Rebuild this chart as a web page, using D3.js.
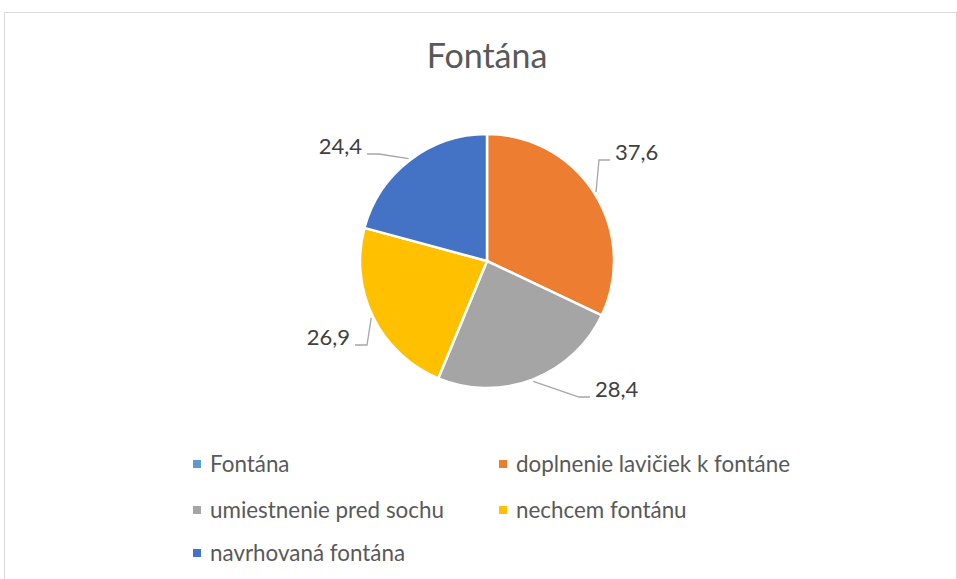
<!DOCTYPE html>
<html>
<head>
<meta charset="utf-8">
<script src="https://cdn.jsdelivr.net/npm/d3@7"></script>
<style>
  body { margin: 0; background: #fff; }
  text { font-family: Lato, "Open Sans", sans-serif; }
</style>
</head>
<body>
<script>
var width = 957, height = 579;

// data
var categories = ["Fontána", "doplnenie lavičiek k fontáne", "umiestnenie pred sochu", "nechcem fontánu", "navrhovaná fontána"];
var values = [0, 37.6, 28.4, 26.9, 24.4];
var colors = ["#5B9BD5", "#ED7D31", "#A5A5A5", "#FFC000", "#4472C4"];
var chartTitle = "Fontána";

// where excel dragged the data labels (offset of text anchor from pie centre)
var labelOffsets = [null, [128, -101], [108, 136], [-137, 84], [-125, -107]];

var cx = 487, cy = 261, radius = 127;

var svg = d3.select("body").append("svg")
    .attr("width", width)
    .attr("height", height);

// chart frame
svg.append("rect")
    .attr("x", 4.5)
    .attr("y", 12.5)
    .attr("width", 952)
    .attr("height", 600)
    .attr("fill", "#fff")
    .attr("stroke", "#d9d9d9");

svg.append("text")
    .attr("x", cx)
    .attr("y", 68)
    .attr("text-anchor", "middle")
    .attr("fill", "#595959")
    .style("font-size", "34px")
    .text(chartTitle);

var rows = categories.map(function(c, i) {
  return {name: c, value: values[i], color: colors[i], off: labelOffsets[i]};
});

var pie = d3.pie()
    .sort(null)
    .value(function(d) { return d.value; });

var arc = d3.arc()
    .innerRadius(0)
    .outerRadius(radius);

var edgeArc = d3.arc()
    .innerRadius(radius + 2)
    .outerRadius(radius + 2);

var g = svg.append("g")
    .attr("transform", "translate(" + cx + "," + cy + ")");

var arcs = pie(rows);

g.selectAll(".slice")
    .data(arcs.filter(function(d) { return d.value > 0; }))
  .enter().append("path")
    .attr("class", "slice")
    .attr("d", arc)
    .attr("fill", function(d) { return d.data.color; })
    .attr("stroke", "#fff")
    .attr("stroke-width", 2.5)
    .attr("stroke-linejoin", "round");

var labelled = arcs.filter(function(d) { return d.value > 0; });

// leader lines
g.selectAll(".leader")
    .data(labelled)
  .enter().append("polyline")
    .attr("class", "leader")
    .attr("fill", "none")
    .attr("stroke", "#a6a6a6")
    .attr("stroke-width", 1.3)
    .attr("points", function(d) {
      var p0 = edgeArc.centroid(d);
      var o = d.data.off;
      var right = o[0] > 0;
      var yLine = o[1];
      var elbow = [right ? o[0] - 16 : o[0] + 17, yLine];
      var end = [right ? o[0] - 5 : o[0] + 5, yLine];
      return [p0, elbow, end].map(function(p) { return p.join(","); }).join(" ");
    });

g.selectAll(".dlabel")
    .data(labelled)
  .enter().append("text")
    .attr("class", "dlabel")
    .attr("x", function(d) { return d.data.off[0]; })
    .attr("y", function(d) { return d.data.off[1]; })
    .attr("text-anchor", function(d) { return d.data.off[0] > 0 ? "start" : "end"; })
    .attr("fill", "#404040")
    .style("font-size", "22px")
    .text(function(d) { return String(d.value).replace(".", ","); });

// legend, two columns
var legend = svg.append("g").attr("class", "legend");

var item = legend.selectAll(".item")
    .data(rows)
  .enter().append("g")
    .attr("class", "item")
    .attr("transform", function(d, i) {
      var col = i % 2, row = Math.floor(i / 2);
      return "translate(" + (193 + col * 306) + "," + [464, 510, 553][row] + ")";
    });

item.append("rect")
    .attr("x", 0)
    .attr("y", -4)
    .attr("width", 8)
    .attr("height", 8)
    .attr("fill", function(d) { return d.color; });

item.append("text")
    .attr("x", 17)
    .attr("y", 0)
    .attr("dy", "0.35em")
    .attr("fill", "#595959")
    .style("font-size", "22.4px")
    .text(function(d) { return d.name; });
</script>
</body>
</html>
